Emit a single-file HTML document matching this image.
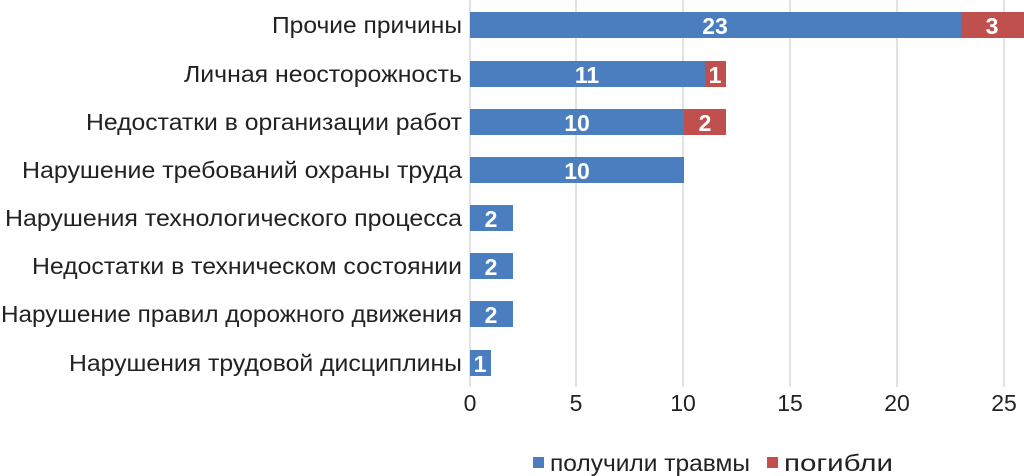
<!DOCTYPE html>
<html><head><meta charset="utf-8"><style>
html,body{margin:0;padding:0;background:#fff;}
svg{display:block;font-family:"Liberation Sans",Arial,sans-serif;}
</style></head><body>
<svg width="1024" height="476" viewBox="0 0 1024 476">
<g stroke="#d9d9d9" stroke-width="1.5">
<line x1="576" y1="0" x2="576" y2="387"/>
<line x1="683" y1="0" x2="683" y2="387"/>
<line x1="790" y1="0" x2="790" y2="387"/>
<line x1="897" y1="0" x2="897" y2="387"/>
<line x1="1004" y1="0" x2="1004" y2="387"/>
<line x1="470" y1="0" x2="470" y2="387"/>
</g>
<g fill="#4a7ebf">
<rect x="470" y="12" width="491" height="26"/>
<rect x="470" y="61" width="235" height="26"/>
<rect x="470" y="109" width="214" height="26"/>
<rect x="470" y="157" width="214" height="26"/>
<rect x="470" y="205" width="43" height="26"/>
<rect x="470" y="253" width="43" height="26"/>
<rect x="470" y="301" width="43" height="26"/>
<rect x="470" y="350" width="21" height="26"/>
</g>
<g fill="#c0504d">
<rect x="961" y="12" width="63" height="26"/>
<rect x="705" y="61" width="21" height="26"/>
<rect x="684" y="109" width="42" height="26"/>
</g>
<g fill="#fff" font-weight="bold" font-size="23" text-anchor="middle">
<text x="715" y="34">23</text><text x="992" y="34">3</text>
<text x="587" y="83">11</text><text x="715" y="83">1</text>
<text x="577" y="131">10</text><text x="705" y="131">2</text>
<text x="577" y="179">10</text>
<text x="491" y="227">2</text><text x="491" y="275">2</text><text x="491" y="323">2</text>
<text x="480" y="372">1</text>
</g>
<g fill="#222" font-size="23" lengthAdjust="spacingAndGlyphs">
<text x="272" y="33" textLength="190" lengthAdjust="spacingAndGlyphs">Прочие причины</text>
<text x="184" y="82" textLength="278" lengthAdjust="spacingAndGlyphs">Личная неосторожность</text>
<text x="86" y="130" textLength="376" lengthAdjust="spacingAndGlyphs">Недостатки в организации работ</text>
<text x="22" y="178" textLength="440" lengthAdjust="spacingAndGlyphs">Нарушение требований охраны труда</text>
<text x="5" y="226" textLength="457" lengthAdjust="spacingAndGlyphs">Нарушения технологического процесса</text>
<text x="32" y="274" textLength="430" lengthAdjust="spacingAndGlyphs">Недостатки в техническом состоянии</text>
<text x="1" y="322" textLength="461" lengthAdjust="spacingAndGlyphs">Нарушение правил дорожного движения</text>
<text x="69" y="371" textLength="393" lengthAdjust="spacingAndGlyphs">Нарушения трудовой дисциплины</text>
</g>
<g fill="#222" font-size="23" text-anchor="middle">
<text x="470" y="411">0</text><text x="576" y="411">5</text><text x="683" y="411">10</text>
<text x="790" y="411">15</text><text x="897" y="411">20</text><text x="1004" y="411">25</text>
</g>
<rect x="533" y="457" width="11" height="11" fill="#4a7ebf"/>
<text x="550" y="471" font-size="23" fill="#222" textLength="200" lengthAdjust="spacingAndGlyphs">получили травмы</text>
<rect x="767" y="457" width="11" height="11" fill="#c0504d"/>
<text x="784" y="471" font-size="23" fill="#222" textLength="109" lengthAdjust="spacingAndGlyphs">погибли</text>
</svg>
</body></html>
